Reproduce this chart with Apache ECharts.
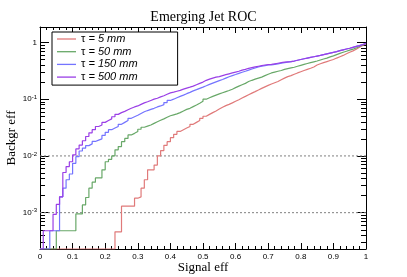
<!DOCTYPE html>
<html><head><meta charset="utf-8">
<script src="https://cdn.jsdelivr.net/npm/echarts@6/dist/echarts.min.js"></script>
<style>html,body{margin:0;padding:0;background:#fff}#c{width:407px;height:277px}</style>
</head><body><div id="c"></div>
<script>
// Signal-efficiency bin edges (100 bins of width 0.01)
const binEdges = [0,0.01,0.02,0.03,0.04,0.05,0.06,0.07,0.08,0.09,0.1,0.11,0.12,0.13,0.14,0.15,0.16,0.17,0.18,0.19,0.2,0.21,0.22,0.23,0.24,0.25,0.26,0.27,0.28,0.29,0.3,0.31,0.32,0.33,0.34,0.35,0.36,0.37,0.38,0.39,0.4,0.41,0.42,0.43,0.44,0.45,0.46,0.47,0.48,0.49,0.5,0.51,0.52,0.53,0.54,0.55,0.56,0.57,0.58,0.59,0.6,0.61,0.62,0.63,0.64,0.65,0.66,0.67,0.68,0.69,0.7,0.71,0.72,0.73,0.74,0.75,0.76,0.77,0.78,0.79,0.8,0.81,0.82,0.83,0.84,0.85,0.86,0.87,0.88,0.89,0.9,0.91,0.92,0.93,0.94,0.95,0.96,0.97,0.98,0.99,1];

// Background efficiency per bin (0 = empty bin)
const eff5mm = [0,0,0,0,0,0,0,0,0,0,0,0,0,0,0,0,0,0,0,0,0,0,0,
  4.6e-4,4.6e-4,1.3e-3,1.3e-3,1.3e-3,1.3e-3,1.8e-3,1.9e-3,2.7e-3,3.8e-3,5.7e-3,5.7e-3,6.9e-3,0.010,0.0124,0.0154,0.0178,
  0.021,0.024,0.027,0.029,0.031,0.033,0.036,0.039,0.042,0.046,
  0.050,0.054,0.058,0.062,0.067,0.072,0.077,0.081,0.086,0.092,
  0.098,0.105,0.112,0.12,0.128,0.136,0.145,0.155,0.165,0.175,
  0.185,0.195,0.205,0.22,0.235,0.25,0.26,0.275,0.29,0.305,
  0.32,0.335,0.35,0.37,0.40,0.42,0.44,0.46,0.48,0.50,
  0.53,0.56,0.59,0.63,0.67,0.71,0.76,0.82,0.88,0.95];
const eff50mm = [0,0,0,0,0,4.8e-4,4.8e-4,4.8e-4,4.8e-4,4.8e-4,
  4.8e-4,9.5e-4,9.5e-4,1.37e-3,1.85e-3,2.7e-3,3.45e-3,4.1e-3,4.1e-3,5.7e-3,
  7.9e-3,8.7e-3,0.010,0.0128,0.0146,0.0178,0.0203,0.0234,0.025,0.027,
  0.0295,0.032,0.0335,0.035,0.0375,0.040,0.0425,0.045,0.048,0.051,
  0.053,0.055,0.058,0.062,0.066,0.069,0.074,0.079,0.085,0.092,
  0.10,0.106,0.112,0.118,0.124,0.13,0.136,0.142,0.15,0.16,
  0.17,0.18,0.19,0.205,0.215,0.225,0.235,0.245,0.26,0.275,
  0.29,0.30,0.31,0.32,0.335,0.345,0.355,0.365,0.38,0.395,
  0.41,0.425,0.44,0.455,0.47,0.49,0.51,0.53,0.555,0.58,
  0.61,0.64,0.67,0.70,0.73,0.76,0.80,0.85,0.90,0.96];
const eff150mm = [0,0,0,4.8e-4,4.8e-4,4.8e-4,1.9e-3,2.7e-3,3.8e-3,4.8e-3,
  7.4e-3,9.7e-3,0.0122,0.0137,0.0152,0.0163,0.018,0.019,0.020,0.023,
  0.026,0.029,0.031,0.033,0.036,0.039,0.042,0.046,0.049,0.052,
  0.056,0.060,0.063,0.066,0.069,0.073,0.076,0.080,0.087,0.095,
  0.10,0.106,0.112,0.118,0.125,0.132,0.14,0.147,0.155,0.163,
  0.172,0.182,0.192,0.202,0.212,0.222,0.235,0.248,0.26,0.272,
  0.285,0.298,0.31,0.325,0.34,0.355,0.37,0.38,0.39,0.40,
  0.40,0.41,0.42,0.43,0.44,0.45,0.46,0.47,0.485,0.50,
  0.515,0.53,0.545,0.56,0.575,0.59,0.61,0.63,0.65,0.67,
  0.69,0.715,0.74,0.765,0.79,0.82,0.85,0.88,0.92,0.96];
const eff500mm = [0,4.8e-4,4.8e-4,4.8e-4,9.3e-4,1.4e-3,1.9e-3,5.1e-3,6.5e-3,7.9e-3,
  0.0104,0.0133,0.0155,0.0185,0.022,0.0255,0.029,0.033,0.035,0.039,
  0.042,0.045,0.049,0.054,0.058,0.061,0.065,0.069,0.073,0.076,
  0.081,0.086,0.090,0.095,0.10,0.104,0.11,0.115,0.122,0.129,
  0.133,0.138,0.143,0.15,0.157,0.163,0.17,0.18,0.19,0.20,
  0.215,0.225,0.235,0.245,0.25,0.26,0.27,0.28,0.29,0.30,
  0.31,0.325,0.335,0.35,0.36,0.37,0.38,0.39,0.40,0.405,
  0.41,0.42,0.43,0.44,0.45,0.455,0.46,0.47,0.485,0.50,
  0.515,0.53,0.545,0.56,0.575,0.59,0.61,0.63,0.65,0.67,
  0.69,0.715,0.74,0.765,0.79,0.82,0.85,0.88,0.92,0.96];

const seriesNames = ['τ = 5 mm','τ = 50 mm','τ = 150 mm','τ = 500 mm'];
const seriesValues = [eff5mm, eff50mm, eff150mm, eff500mm];
const seriesColors = ['#e07a7a','#68a868','#7474ff','#9a3fe6'];

const yLabelValues = [0.001, 0.01, 0.1, 1];
const yLabelTexts = ['10{s|-3}','10{s|-2}','10{s|-1}','1'];
const dashedLevels = [0.01, 0.001];

const Y_MIN = 2.29e-4, Y_MAX = 1.87;
const yMinorTicks = [];
[1e-4,1e-3,1e-2,1e-1].forEach(d => { for (let k = 2; k <= 9; k++) { const v = +(k*d).toPrecision(3); if (v > Y_MIN && v < Y_MAX) yMinorTicks.push(v); } });

function histData(vals) {
  return binEdges.map((x, i) => {
    const v = vals[Math.min(i, vals.length - 1)];
    return [x, v > 0 ? v : Y_MIN];
  });
}

const chart = echarts.init(document.getElementById('c'), null, {renderer: 'canvas'});
const FONT = 'Liberation Sans';
const baseX = {
  type: 'value', min: 0, max: 1, interval: 0.1, nameMoveOverlap: false,
  axisLine: {show: true, onZero: false, lineStyle: {color: '#000', width: 1}},
  axisTick: {show: true, inside: true, length: 6, lineStyle: {color: '#000'}},
  minorTick: {show: true, splitNumber: 5, length: 3, lineStyle: {color: '#000'}},
  splitLine: {show: false}, minorSplitLine: {show: false}
};
const baseY = {
  type: 'log', logBase: 10, min: Y_MIN, max: Y_MAX, nameMoveOverlap: false,
  axisLine: {show: false},
  splitLine: {show: false}, minorSplitLine: {show: false}, minorTick: {show: false},
  axisLabel: {show: false}
};
function yAxisDef(pos, major, withLabels) {
  const a = JSON.parse(JSON.stringify(baseY));
  a.position = pos;
  a.axisLine = {show: major, onZero: false, lineStyle: {color: '#000', width: 1}};
  a.axisTick = {show: true, inside: true, length: major ? 9 : 5, customValues: major ? yLabelValues : yMinorTicks, lineStyle: {color: '#000'}};
  if (withLabels) {
    a.axisLabel = {
      show: true, customValues: yLabelValues, margin: 3,
      fontFamily: FONT, fontSize: 8, color: '#000',
      formatter: v => { const i = yLabelValues.findIndex(t => Math.abs(t - v) / t < 1e-6); return i >= 0 ? yLabelTexts[i] : ''; },
      rich: {s: {fontFamily: FONT, fontSize: 6, color: '#000', verticalAlign: 'top', padding: [0,0,4,0]}}
    };
    a.name = 'Backgr eff';
    a.nameLocation = 'middle';
    a.nameGap = 22;
    a.nameTextStyle = {fontFamily: 'Liberation Serif', fontSize: 13, color: '#000'};
  }
  return a;
}

const series = seriesNames.map((name, k) => ({
  name, type: 'line', step: 'end', xAxisIndex: 0, yAxisIndex: 0,
  data: histData(seriesValues[k]), symbol: 'none', showSymbol: false,
  lineStyle: {color: seriesColors[k], width: 1.2}, itemStyle: {color: seriesColors[k]},
  clip: true, animation: false, z: 3 + k
}));
// dashed reference levels across the full signal-efficiency range
dashedLevels.forEach(v => series.push({
  type: 'line', name: 'level', silent: true, xAxisIndex: 0, yAxisIndex: 0,
  data: [[0, v], [1, v]], symbol: 'none', showSymbol: false, z: 2, animation: false,
  lineStyle: {color: '#808080', type: [2, 2], width: 1}, tooltip: {show: false}
}));

chart.setOption({
  animation: false,
  backgroundColor: '#fff',
  title: {text: 'Emerging Jet ROC', left: 'center', top: 5,
    textStyle: {fontFamily: 'Liberation Serif', fontSize: 14, fontWeight: 'normal', color: '#000'}},
  grid: {left: 40, right: 41, top: 27, bottom: 28, show: false, containLabel: false, outerBoundsMode: 'none'},
  legend: {
    left: 52, top: 32, orient: 'vertical', backgroundColor: '#fff',
    borderColor: '#000', borderWidth: 1, borderRadius: 0, padding: [1, 40, 2, 5],
    itemWidth: 19, itemHeight: 1.3, itemGap: 0.7, icon: 'rect',
    formatter: n => '{n|τ}' + n.slice(1),
    textStyle: {fontFamily: FONT, fontSize: 11, fontStyle: 'italic', color: '#000', lineHeight: 12,
      rich: {n: {fontFamily: FONT, fontSize: 11, fontStyle: 'normal', color: '#000', lineHeight: 12}}},
    data: seriesNames
  },
  xAxis: [
    Object.assign({}, baseX, {position: 'bottom',
      axisLabel: {show: true, margin: 4, fontFamily: FONT, fontSize: 8, color: '#000'},
      name: 'Signal eff', nameLocation: 'middle', nameGap: 12,
      nameTextStyle: {fontFamily: 'Liberation Serif', fontSize: 13, color: '#000'}}),
    Object.assign({}, baseX, {position: 'top', axisLabel: {show: false}})
  ],
  yAxis: [
    yAxisDef('left', true, true),
    yAxisDef('left', false, false),
    yAxisDef('right', true, false),
    yAxisDef('right', false, false)
  ],
  series
});
</script></body></html>
